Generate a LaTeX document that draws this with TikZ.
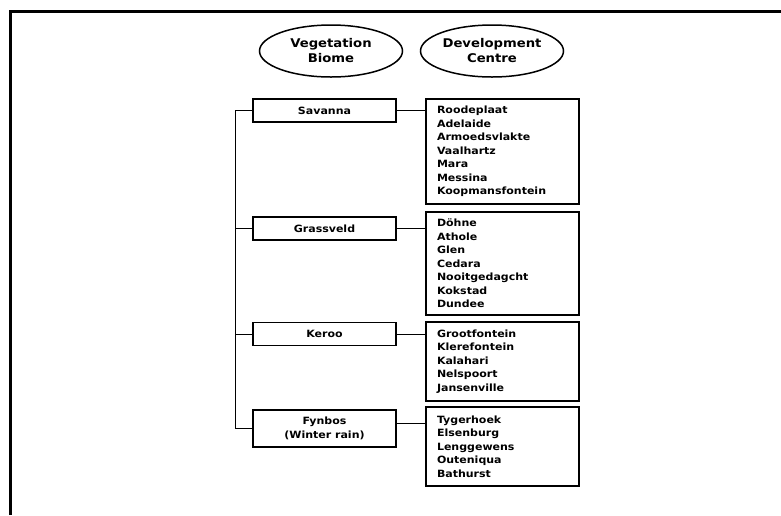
\documentclass[tikz,border=0pt]{standalone}
\usepackage{fontspec}
\setmainfont{DejaVu Sans}[FakeStretch=1.1]
\usetikzlibrary{shapes.geometric}
\begin{document}
\begin{tikzpicture}
[x=1pt,y=-1pt,
 font=\bfseries\fontsize{10}{13.5}\selectfont,
 head/.style={shape=ellipse,draw,line width=1.5pt,minimum width=143pt,minimum height=52pt,
   align=center,inner sep=0pt,font=\bfseries\fontsize{12}{15}\selectfont},
 biome/.style={shape=rectangle,draw,line width=1.6pt,minimum width=143pt,minimum height=23pt,
   align=center,inner sep=0pt},
 centres/.style={shape=rectangle,draw,line width=2.4pt,minimum width=153pt,text width=131pt,
   inner xsep=11pt,align=left}]
\useasboundingbox (0,0) rectangle (781,515);
\draw [line width=3pt] (10.5,515) |- (781,11);
\path (331,51) node (veg) [head] {Vegetation\\Biome}
(492,51) node (dev) [head] {Development\\Centre}
(324.5,110.5) node (sav) [biome] {Savanna}
(324.5,228.5) node (grass) [biome] {Grassveld}
(324.5,334) node (keroo) [biome] {Keroo}
(324.5,428.5) node (fyn) [biome,minimum height=37pt] {Fynbos\\(Winter rain)}
(502.5,151.5) node (savlist) [centres,minimum height=105pt] {Roodeplaat\\Adelaide\\Armoedsvlakte\\Vaalhartz\\Mara\\Messina\\Koopmansfontein}
(502.5,263.5) node (grasslist) [centres,minimum height=103pt] {D\"ohne\\Athole\\Glen\\Cedara\\Nooitgedagcht\\Kokstad\\Dundee}
(502.5,361.5) node (keroolist) [centres,minimum height=79pt] {Grootfontein\\Klerefontein\\Kalahari\\Nelspoort\\Jansenville}
(502.5,446.5) node (fynlist) [centres,minimum height=79pt] {Tygerhoek\\Elsenburg\\Lenggewens\\Outeniqua\\Bathurst};
\coordinate (bot) at (235,428.5);
\draw [line width=1pt] (sav.west) -| (bot) -- (fyn.west);
\draw [line width=1pt] (grass.west) -- (grass.west -| bot);
\draw [line width=1pt] (keroo.west) -- (keroo.west -| bot);
\draw [line width=1pt] (sav.east) -- (sav.east -| savlist.west);
\draw [line width=1pt] (grass.east) -- (grass.east -| grasslist.west);
\draw [line width=1pt] (keroo.east) -- (keroo.east -| keroolist.west);
\draw [line width=1pt] ([yshift=5pt]fyn.east) -- ([yshift=5pt]fyn.east -| fynlist.west);
\end{tikzpicture}
\end{document}
